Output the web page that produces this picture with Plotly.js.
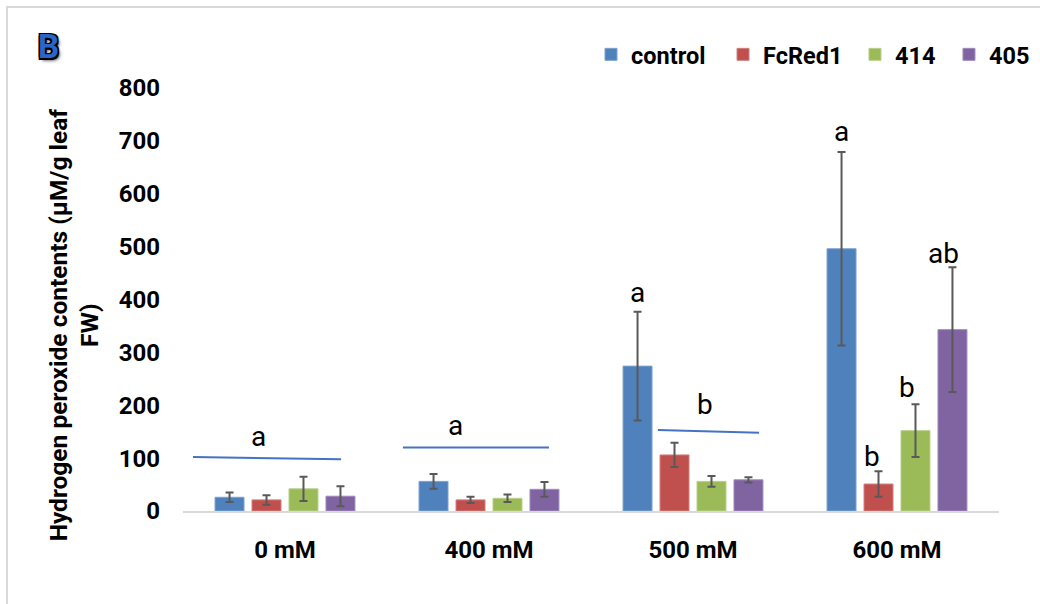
<!DOCTYPE html>
<html><head><meta charset="utf-8">
<script src="https://cdn.plot.ly/plotly-3.0.1.min.js"></script>
<style>
html,body{margin:0;padding:0;background:#fff;overflow:hidden}
#chart{width:1040px;height:604px;position:absolute;left:0;top:0}
#frame{position:absolute;left:6px;top:6px;width:1100px;height:700px;border-left:2px solid #d9d9d9;border-top:2px solid #d9d9d9;pointer-events:none}
</style>
</head><body><div id="chart"></div><div id="frame"></div>
<script>
// ---- data ----
const categories = ['0 mM', '400 mM', '500 mM', '600 mM'];
const seriesNames = ['control', 'FcRed1', '414', '405'];
const controlVals = [26, 56, 274, 496];
const controlErr  = [9, 14, 103, 183];
const fcred1Vals  = [21, 21, 106, 51];
const fcred1Err   = [9, 6, 23, 24];
const s414Vals    = [42, 24, 56, 152];
const s414Err     = [23, 7, 10, 50];
const s405Vals    = [28, 41, 59, 343];
const s405Err     = [19, 14, 5, 118];
const yTickVals   = [0, 100, 200, 300, 400, 500, 600, 700, 800];
const sigLetters  = ['a', 'a', 'a', 'b', 'a', 'b', 'b', 'ab'];
const sigLetterY  = [140, 161, 413, 201, 718, 103, 233, 487];

// ---- styling ----
const colors = ['#4F81BD', '#C0504D', '#9BBB59', '#8064A2'];
const edge = ['#7da2d1', '#d27e7b', '#b8d088', '#a08bbd'];
const tickFont = {family: 'Roboto', size: 24, color: '#000', weight: 'bold'};
const legendFont = {family: 'Roboto', size: 23.5, color: '#000', weight: 'bold'};
const vals = [controlVals, fcred1Vals, s414Vals, s405Vals];
const errs = [controlErr, fcred1Err, s414Err, s405Err];
const legendIds = ['legend', 'legend2', 'legend3', 'legend4'];
const legendX = [0.5, 0.6618, 0.8235, 0.9387];

const traces = seriesNames.map((name, i) => ({
  type: 'bar', name: name, x: categories, y: vals[i], legend: legendIds[i],
  marker: {color: colors[i], line: {color: edge[i], width: 1}},
  error_y: {type: 'data', array: errs[i], visible: true, color: '#595959', thickness: 2, width: 4},
  hoverinfo: 'x+y+name'
}));

// annotation placement (category index + offset on the x axis)
const sigLetterX = [-0.132, 0.836, 1.728, 2.059, 2.729, 2.877, 3.049, 3.230];
const annotations = sigLetters.map((t, i) => ({
  text: t, x: sigLetterX[i], y: sigLetterY[i], xref: 'x', yref: 'y',
  showarrow: false, xanchor: 'center', yanchor: 'middle',
  font: {family: 'Roboto', size: 28, color: '#000'}
}));
annotations.push({
  text: 'Hydrogen peroxide contents (µM/g leaf<br>FW)', textangle: -90,
  xref: 'paper', yref: 'paper', x: -0.133, y: 0.44, xanchor: 'center', yanchor: 'middle',
  showarrow: false, font: {family: 'Roboto', size: 24.5, color: '#000', weight: 'bold'}
});
annotations.push({
  text: 'B', xref: 'paper', yref: 'paper', x: -0.165, y: 1.098, xanchor: 'center', yanchor: 'middle',
  showarrow: false,
  font: {family: 'Roboto', size: 33, color: '#2a66c9', weight: 'bold',
         shadow: '-1.5px -1.5px 0 #000, 1.5px -1.5px 0 #000, -1.5px 1.5px 0 #000, 1.5px 1.5px 0 #000, 2.5px 2.5px 3px #777'}
});

const lineColor = '#4472C4';
const shapes = [
  {type: 'line', xref: 'x', yref: 'y', x0: -0.451, y0: 102, x1: 0.275, y1: 98, line: {color: lineColor, width: 2}},
  {type: 'line', xref: 'x', yref: 'y', x0: 0.578, y0: 120, x1: 1.294, y1: 120, line: {color: lineColor, width: 2}},
  {type: 'line', xref: 'x', yref: 'y', x0: 1.828, y0: 153, x1: 2.324, y1: 148, line: {color: lineColor, width: 2}}
];

const layout = {
  width: 1040, height: 604,
  margin: {l: 183, r: 41, t: 88, b: 93, pad: 0, autoexpand: false},
  paper_bgcolor: 'rgba(0,0,0,0)', plot_bgcolor: 'rgba(0,0,0,0)',
  barmode: 'group', bargap: 0.275, bargroupgap: 0.216,
  showlegend: true,
  xaxis: {type: 'category', showgrid: false, showline: true, linecolor: '#d9d9d9', linewidth: 2,
          ticks: '', tickfont: tickFont, ticklabelstandoff: 16, zeroline: false, fixedrange: true},
  yaxis: {range: [0, 800], tickvals: yTickVals, showgrid: false, showline: false, zeroline: false,
          ticks: '', tickfont: tickFont, ticklabelstandoff: 22, fixedrange: true},
  annotations: annotations,
  shapes: shapes
};
legendIds.forEach((id, i) => {
  layout[id] = {orientation: 'h', x: legendX[i], y: 1.079, xanchor: 'left', yanchor: 'middle',
                font: legendFont, bgcolor: 'rgba(0,0,0,0)'};
});

Plotly.newPlot('chart', traces, layout, {displayModeBar: false, staticPlot: true});
</script>
</body></html>
